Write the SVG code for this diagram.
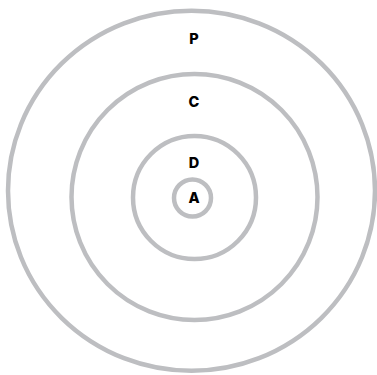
<svg xmlns="http://www.w3.org/2000/svg" width="377" height="375" viewBox="0 0 377 375">
<style>
.ring{fill:none;stroke:#bdbec1;stroke-width:4.5}
.lbl{font-family:Inter,"DejaVu Sans",sans-serif;font-weight:800;font-size:14.5px;fill:#000;text-anchor:middle}
</style>
<rect width="377" height="375" fill="#fff"/>
<g id="P"><ellipse class="ring" cx="191.5" cy="190.75" rx="183.5" ry="180"/><text class="lbl" x="194" y="44">P</text></g>
<g id="C"><circle class="ring" cx="194.5" cy="197" r="123"/><text class="lbl" x="194" y="107">C</text></g>
<g id="D"><circle class="ring" cx="194.5" cy="197.5" r="61.5"/><text class="lbl" x="194" y="167.5">D</text></g>
<g id="A"><circle class="ring" cx="192.5" cy="198" r="18.5"/><text class="lbl" x="194" y="203">A</text></g>
<g id="connectors"/>
</svg>
